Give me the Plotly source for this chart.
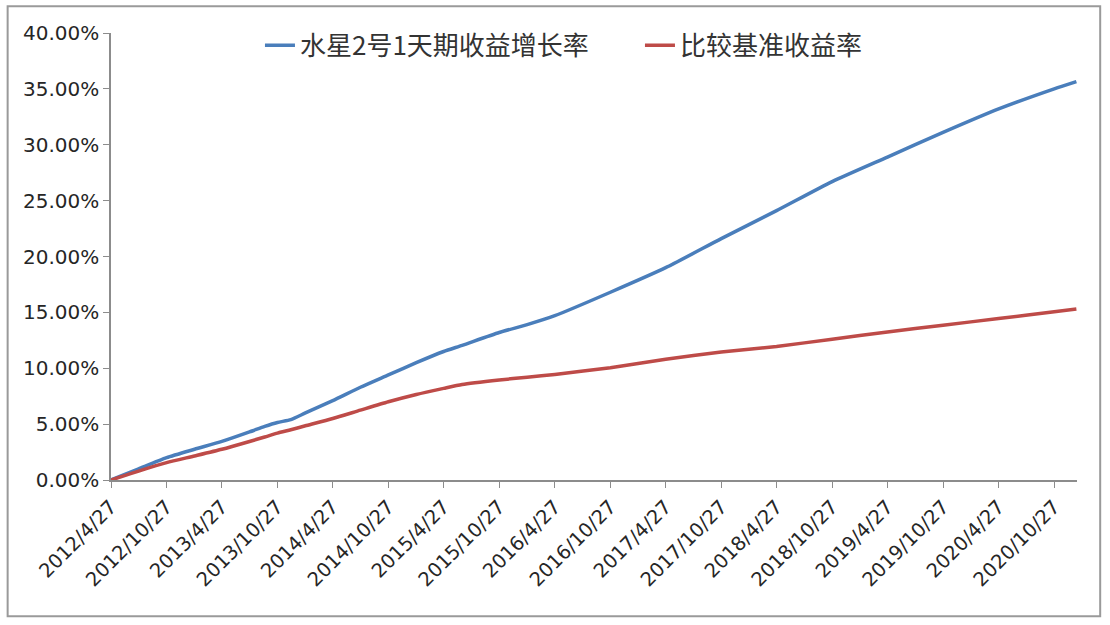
import plotly.graph_objects as go

dates = ["2012-04-27", "2012-07-27", "2012-10-27", "2013-01-27", "2013-04-27",
         "2013-07-27", "2013-09-15", "2013-10-27", "2013-12-10", "2014-01-27",
         "2014-04-27", "2014-07-27", "2014-10-27", "2015-01-27", "2015-04-27",
         "2015-06-27", "2015-10-27", "2016-01-27", "2016-04-27", "2016-10-27",
         "2017-04-27", "2017-10-27", "2018-04-27", "2018-10-27", "2019-04-27",
         "2019-10-27", "2020-04-27", "2020-10-27", "2021-01-08"]
fund = [0.0, 1.0, 2.0, 2.75, 3.45,
        4.3, 4.8, 5.15, 5.4, 6.0,
        7.1, 8.3, 9.4, 10.5, 11.5,
        12.05, 13.2, 13.9, 14.7, 16.8,
        19.0, 21.6, 24.1, 26.7, 28.9,
        31.1, 33.2, 35.0, 35.65]
bench = [0.0, 0.8, 1.55, 2.15, 2.75,
         3.45, 3.85, 4.2, 4.5, 4.85,
         5.5, 6.25, 7.0, 7.65, 8.2,
         8.55, 8.95, 9.2, 9.45, 10.05,
         10.8, 11.45, 11.95, 12.6, 13.25,
         13.85, 14.45, 15.05, 15.3]
tick_dates = ["2012-04-27", "2012-10-27", "2013-04-27", "2013-10-27", "2014-04-27",
              "2014-10-27", "2015-04-27", "2015-10-27", "2016-04-27", "2016-10-27",
              "2017-04-27", "2017-10-27", "2018-04-27", "2018-10-27", "2019-04-27",
              "2019-10-27", "2020-04-27", "2020-10-27"]
tick_labels = ["2012/4/27", "2012/10/27", "2013/4/27", "2013/10/27", "2014/4/27",
               "2014/10/27", "2015/4/27", "2015/10/27", "2016/4/27", "2016/10/27",
               "2017/4/27", "2017/10/27", "2018/4/27", "2018/10/27", "2019/4/27",
               "2019/10/27", "2020/4/27", "2020/10/27"]
y_ticks = [0, 5, 10, 15, 20, 25, 30, 35, 40]
y_labels = ["0.00%", "5.00%", "10.00%", "15.00%", "20.00%", "25.00%", "30.00%", "35.00%", "40.00%"]
series_names = ["水星2号1天期收益增长率", "比较基准收益率"]

fig = go.Figure()
fig.add_trace(go.Scatter(x=dates, y=fund, mode="lines", name=series_names[0],
                         line=dict(color="#4A7EBB", width=3.5, shape="spline", smoothing=0.6)))
fig.add_trace(go.Scatter(x=dates, y=bench, mode="lines", name=series_names[1],
                         line=dict(color="#BE4B48", width=3.5, shape="spline", smoothing=0.6)))

fig.update_layout(
    width=1110, height=625,
    margin=dict(l=111, r=33, t=33, b=145),
    paper_bgcolor="white", plot_bgcolor="white",
    font=dict(family="DejaVu Sans, Noto Sans CJK SC", size=20, color="#262626"),
    showlegend=True,
    legend=dict(orientation="h", x=0.1542, xanchor="left", y=1.025, yanchor="top",
                font=dict(family="Noto Sans CJK SC", size=26, color="#333333"),
                bgcolor="rgba(0,0,0,0)", entrywidth=335, entrywidthmode="pixels",
                tracegroupgap=0),
    xaxis=dict(type="date", range=["2012-04-27", "2021-01-10"],
               tickvals=tick_dates, ticktext=tick_labels, tickangle=-45,
               showgrid=False, showline=True, linecolor="#8c8c8c", linewidth=1.5,
               ticks="outside", ticklen=6, tickcolor="#8c8c8c",
               tickfont=dict(family="DejaVu Sans", size=19.5, color="#262626"), zeroline=False),
    yaxis=dict(range=[0, 40], tickvals=y_ticks, ticktext=y_labels,
               showgrid=False, showline=True, linecolor="#8c8c8c", linewidth=1.5,
               ticks="outside", ticklen=6, tickcolor="#8c8c8c",
               tickfont=dict(family="DejaVu Sans", size=20, color="#262626"), zeroline=False),
    shapes=[dict(type="rect", xref="paper", yref="paper",
                 x0=-0.107, x1=1.024, y0=-0.305, y1=1.06,
                 line=dict(color="#9a9a9a", width=2), fillcolor="rgba(0,0,0,0)", layer="below")],
)

fig.write_html("out.html", config={"displayModeBar": False},
               post_script="document.body.style.margin='0';document.body.style.overflow='hidden';")
